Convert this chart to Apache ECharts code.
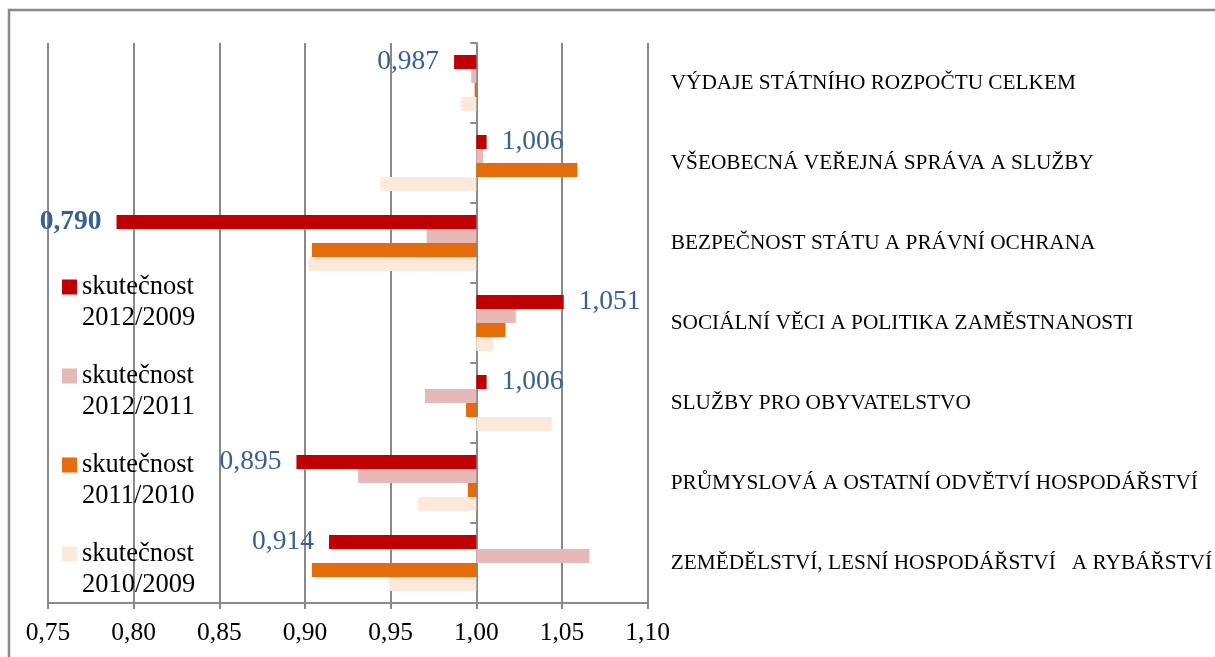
<!DOCTYPE html>
<html>
<head>
<meta charset="utf-8">
<script src="https://cdn.jsdelivr.net/npm/echarts@6/dist/echarts.min.js"></script>
<style>
  html, body { margin: 0; padding: 0; background: #fff; }
  #myChart { width: 1215px; height: 657px; }
</style>
</head>
<body>
<div id="myChart"></div>
<script>
// kategorie (shora dolů)
var categories = [
  'VÝDAJE STÁTNÍHO ROZPOČTU CELKEM',
  'VŠEOBECNÁ VEŘEJNÁ SPRÁVA A SLUŽBY',
  'BEZPEČNOST STÁTU A PRÁVNÍ OCHRANA',
  'SOCIÁLNÍ VĚCI A POLITIKA ZAMĚSTNANOSTI',
  'SLUŽBY PRO OBYVATELSTVO',
  'PRŮMYSLOVÁ A OSTATNÍ ODVĚTVÍ HOSPODÁŘSTVÍ',
  'ZEMĚDĚLSTVÍ, LESNÍ HOSPODÁŘSTVÍ   A RYBÁŘSTVÍ'
];
var seriesNames = [
  'skutečnost\n2012/2009',
  'skutečnost\n2012/2011',
  'skutečnost\n2011/2010',
  'skutečnost\n2010/2009'
];
// indexy (poměr skutečností)
var s2012_2009 = [0.987, 1.006, 0.790, 1.051, 1.006, 0.895, 0.914];
var s2012_2011 = [0.997, 1.004, 0.971, 1.023, 0.970, 0.931, 1.066];
var s2011_2010 = [0.999, 1.059, 0.904, 1.017, 0.994, 0.995, 0.904];
var s2010_2009 = [0.991, 0.944, 0.902, 1.010, 1.044, 0.966, 0.949];
var colors = ['#C00000', '#E6B9B8', '#E46C0A', '#FDE9D9'];
// osa x
var axisMin = 0.75, axisMax = 1.10, axisStep = 0.05, base = 1.0;

var font = "'Liberation Serif', 'Times New Roman', serif";
var grey = '#898989';

function fmt(v, d) {
  return v.toFixed(d).replace('.', ',');
}

function makeSeries(name, values, color, withLabel) {
  return {
    name: name,
    type: 'bar',
    barWidth: 14,
    barGap: '0%',
    itemStyle: { color: color },
    data: values.map(function (v) {
      var item = { value: +(v - base).toFixed(4) };
      if (withLabel) {
        item.label = {
          show: true,
          position: v < base ? 'left' : 'right',
          distance: 15,
          formatter: fmt(v, 3),
          color: '#376092',
          fontFamily: font,
          fontSize: 27.5,
          fontWeight: v < 0.8 ? 'bold' : 'normal'
        };
      }
      return item;
    })
  };
}

// ikona legendy: čtverec nahoře (u prvního řádku textu)
var legendIcon = 'path://M0,0L15,0L15,15L0,15Z M0,46.9L0.05,46.9L0.05,47L0,47Z';

var myChart = echarts.init(document.getElementById('myChart'), null, { renderer: 'canvas' });
myChart.setOption({
  animation: false,
  color: colors,
  graphic: [{
    type: 'rect',
    shape: { x: 9, y: 10, width: 1230, height: 700 },
    style: { fill: 'none', stroke: grey, lineWidth: 2.5 },
    silent: true
  }],
  grid: { left: 48, right: 566, top: 43, bottom: 54, containLabel: false },
  legend: {
    orient: 'vertical',
    left: 62,
    top: 272,
    padding: 0,
    itemWidth: 15,
    itemHeight: 47,
    itemGap: 27,
    icon: legendIcon,
    textStyle: {
      fontFamily: font,
      fontSize: 26.5,
      lineHeight: 31,
      color: '#000'
    },
    data: seriesNames
  },
  xAxis: {
    type: 'value',
    min: +(axisMin - base).toFixed(2),
    max: +(axisMax - base).toFixed(2),
    interval: axisStep,
    axisLine: { show: true, lineStyle: { color: grey, width: 2 } },
    axisTick: { show: true, length: 6, lineStyle: { color: grey, width: 2 } },
    splitLine: { show: true, lineStyle: { color: grey, width: 2 } },
    axisLabel: {
      margin: 17,
      fontFamily: font,
      fontSize: 25.5,
      color: '#000',
      formatter: function (v) { return fmt(v + base, 2); }
    }
  },
  yAxis: [{
    type: 'category',
    inverse: true,
    data: categories,
    axisLine: { show: true, onZero: true, lineStyle: { color: grey, width: 2 } },
    axisTick: { show: true, length: 6, lineStyle: { color: grey, width: 2 } },
    axisLabel: { show: false }
  }, {
    type: 'category',
    inverse: true,
    position: 'right',
    data: categories,
    axisLine: { show: false },
    axisTick: { show: false },
    axisLabel: {
      margin: 23,
      fontFamily: font,
      fontSize: 21.3,
      color: '#000'
    }
  }],
  series: [
    makeSeries(seriesNames[0], s2012_2009, colors[0], true),
    makeSeries(seriesNames[1], s2012_2011, colors[1], false),
    makeSeries(seriesNames[2], s2011_2010, colors[2], false),
    makeSeries(seriesNames[3], s2010_2009, colors[3], false)
  ]
});
</script>
</body>
</html>
